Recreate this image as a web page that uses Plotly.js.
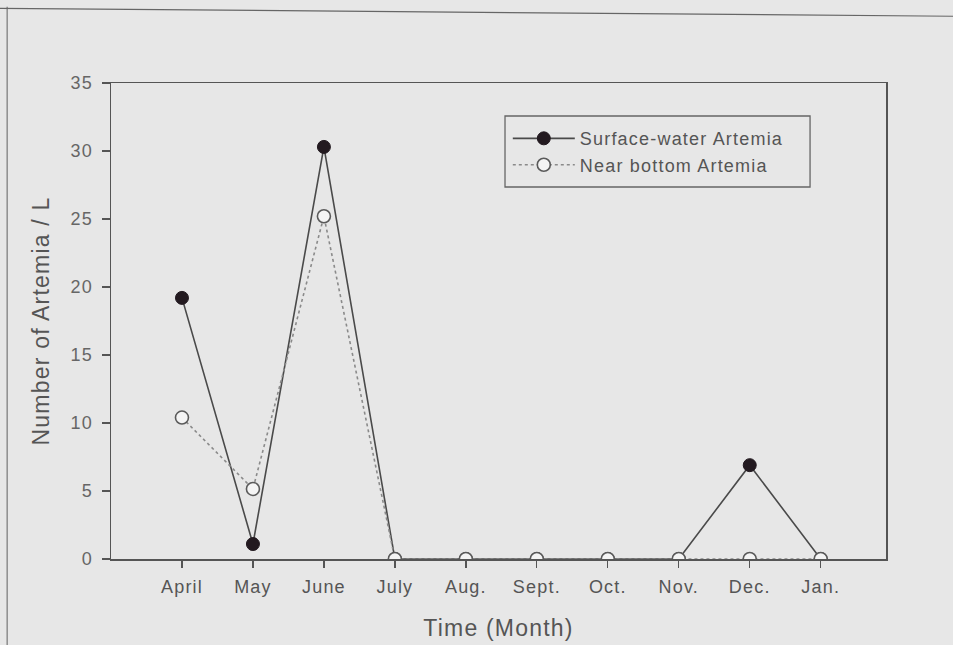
<!DOCTYPE html>
<html>
<head>
<meta charset="utf-8">
<script src="https://cdn.plot.ly/plotly-3.0.1.min.js"></script>
<style>
html,body{margin:0;padding:0;background:#e7e7e7;}
#chart{width:953px;height:645px;}
svg text{letter-spacing:1.2px;}
</style>
</head>
<body>
<div id="chart"></div>
<script>
const months = ["April","May","June","July","Aug.","Sept.","Oct.","Nov.","Dec.","Jan."];
const surfaceWater = [19.2, 1.1, 30.3, 0, 0, 0, 0, 0, 6.9, 0];
const nearBottom = [10.4, 5.15, 25.2, 0, 0, 0, 0, 0, 0, 0];
const yTicks = [0, 5, 10, 15, 20, 25, 30, 35];

const traces = [
  {
    x: months, y: surfaceWater, name: "Surface-water Artemia",
    type: "scatter", mode: "lines+markers",
    line: {color: "#4a4a4a", width: 1.6},
    marker: {color: "#231a20", size: 13, line: {color: "#231a20", width: 1}}
  },
  {
    x: months, y: nearBottom, name: "Near bottom Artemia",
    type: "scatter", mode: "lines+markers",
    line: {color: "#8a8a8a", width: 1.6, dash: "dot"},
    marker: {color: "#f4f4f4", size: 13, symbol: "circle", line: {color: "#5a5a5a", width: 1.6}}
  }
];

const layout = {
  width: 953, height: 645,
  paper_bgcolor: "#e7e7e7", plot_bgcolor: "#e7e7e7",
  margin: {l: 111, r: 67, t: 83, b: 86},
  font: {family: "Liberation Sans, Arial, sans-serif", color: "#555"},
  showlegend: true,
  legend: {
    x: 0.512, y: 0.922, xanchor: "left", yanchor: "top",
    bgcolor: "rgba(0,0,0,0)", borderwidth: 0,
    font: {size: 18, color: "#555"}, itemwidth: 62,
    traceorder: "normal", tracegroupgap: 0
  },
  xaxis: {
    type: "category", range: [-1, 9.92],
    showgrid: false, zeroline: false,
    showline: true, linecolor: "#555", linewidth: 1.5, mirror: true,
    ticks: "outside", ticklen: 7, tickcolor: "#555", tickwidth: 1.3,
    ticklabelstandoff: 4,
    tickfont: {size: 18, color: "#555"},
    title: {text: "Time (Month)", font: {size: 23, color: "#555"}, standoff: 24}
  },
  yaxis: {
    range: [0, 35], tickvals: yTicks,
    showgrid: false, zeroline: false,
    showline: true, linecolor: "#555", linewidth: 1.5, mirror: true,
    ticks: "outside", ticklen: 8, tickcolor: "#555", tickwidth: 1.3,
    ticklabelstandoff: 5,
    tickfont: {size: 18, color: "#666"},
    title: {text: "Number of Artemia / L", font: {size: 23, color: "#555"}, standoff: 14}
  },
  shapes: [
    {type: "rect", xref: "paper", yref: "paper", x0: 0.5084, x1: 0.902, y0: 0.7815, y1: 0.9307,
     line: {color: "#666", width: 1.3}, fillcolor: "rgba(0,0,0,0)", layer: "below"},
    {type: "line", xref: "paper", yref: "paper", x0: -0.134, x1: -0.134, y0: -0.2, y1: 1.16,
     line: {color: "#777", width: 1.2}},
    {type: "line", xref: "paper", yref: "paper", x0: -0.15, x1: 1.1, y0: 1.157, y1: 1.14,
     line: {color: "#666", width: 1.2}}
  ]
};

Plotly.newPlot("chart", traces, layout, {displayModeBar: false, staticPlot: true});
</script>
</body>
</html>
